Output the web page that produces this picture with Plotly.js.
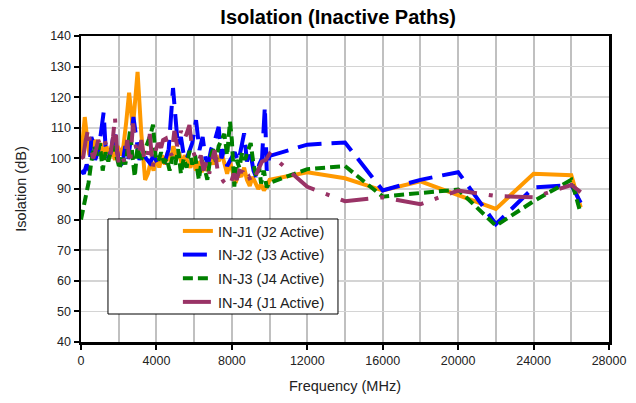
<!DOCTYPE html>
<html>
<head>
<meta charset="utf-8">
<script src="https://cdn.plot.ly/plotly-3.0.1.min.js"></script>
<style>html,body{margin:0;padding:0;background:#fff;}#chart{width:636px;height:403px;}</style>
</head>
<body>
<div id="chart"></div>
<script>
// ---- Data (frequency in MHz, isolation in dB) ----
const freqJ1 = [0,100,200,300,450,600,750,900,1050,1200,1350,1500,1650,1800,1950,2100,2250,2400,2550,2750,3000,3200,3400,3550,3700,3850,4000,4150,4300,4450,4600,4750,4900,5050,5200,5350,5500,5650,5800,5950,6100,6250,6400,6550,6700,6850,7000,7150,7300,7450,7600,7750,7900,8050,8200,8350,8500,8650,8800,8950,9100,9250,9400,9550,9700,9850,10000,12000,14000,16000,18000,20000,22000,24000,26000,26500];
const isoJ1  = [100,107,113.5,108,101,104,106,102,105,101,104,100,103,99.5,104,101,104,112,121.5,110,128.3,108,93,95,99,96,100.5,97,101,98,102,99,104,100,102,98,101,99,97,100,96,99,95.5,98,96,100,98,101,99,102,98,95,99,96,92,95,94,97,93,91,94,92,90,91.5,89.5,91,93,95.5,93.5,89.5,92.5,88,83.5,95,94.5,84];

const freqJ2 = [0,150,300,450,550,650,750,900,1050,1200,1300,1450,1600,1750,1900,2050,2200,2350,2500,2650,2780,2950,3100,3250,3450,3650,3850,4050,4250,4450,4650,4880,5000,5140,5300,5450,5580,5750,5900,6100,6280,6450,6600,6750,6900,7100,7300,7450,7600,7750,7950,8150,8350,8500,8650,8800,8950,9150,9280,9450,9600,9750,9850,10000,12000,14000,16000,18000,20000,22000,24000,26000,26500];
const isoJ2  = [96,95,98,96,107,105,99.5,102,108,115,104,100,102.5,109,103,97.5,98.5,104,99.5,106,113.5,106,99.5,102.5,100,98.5,101,98.5,100,99,103,123,113,104,107,101,99.5,102,105,112.5,102.7,107,100,98.4,103,106,110.3,100,103,97.5,100,102,99,104,108.2,99,103,96,94,98,100,117,96,100.8,104.5,105.2,89.5,93,95.5,78.5,90.5,91.3,85.5];

const freqJ3 = [0,200,400,550,700,850,1000,1150,1300,1450,1600,1750,1900,2050,2200,2350,2500,2600,2750,2850,3000,3150,3350,3550,3700,3820,3950,4100,4250,4400,4550,4700,4850,5000,5150,5300,5450,5600,5750,5900,6050,6250,6400,6550,6700,6850,7000,7150,7300,7450,7600,7750,7900,8000,8130,8250,8400,8550,8700,8850,9000,9150,9300,9450,9550,9700,9850,10000,12000,14000,16000,18000,20000,22000,24000,26000,26500];
const isoJ3  = [80,86,92,99,104,101,105,96,102,99,103,104,100,96.5,101,98,104,109,99.5,94,104,99,102,105,108,111,101,99,102,98.5,100,96,100.5,98,103,95,100,97,102.5,98,101,93,99.5,97,93,100,103,99,104,106,108,101,112,106,90.8,99.5,97,102,99.5,102.5,105,98,94,97,91.8,96,90.5,92,96.5,97.5,87.5,88.7,89.8,78,86,93,82];

const freqJ4 = [0,120,250,390,500,650,800,915,1050,1250,1400,1550,1700,1800,1900,2000,2150,2300,2450,2600,2760,2900,3050,3200,3350,3500,3650,3800,3950,4100,4250,4350,4500,4650,4800,4950,5100,5300,5450,5600,5750,5900,6050,6200,6350,6500,6650,6800,6950,7080,7250,7400,7550,7700,7800,7950,8100,8250,8400,8600,8750,8900,9050,9200,9400,9600,9800,10000,12000,14000,16000,18000,20000,22000,24000,26000,26500];
const isoJ4  = [100,100.5,106,109.8,104,100,103,106,104,106,103,101,107,113.6,103,98.5,101,99,106,98,111.4,104,101,106,100,99,108,97,102.5,105,103.5,106,106.5,103,101,109,104,109,106,108,110.9,103,100.5,98.5,101,96,99,95,99.5,102.7,96,94,92.5,91.5,90.8,92,95,93,96,95.5,93,94,92,93.5,96,99,99.5,101.5,90.7,86,87.3,85,89.5,87.7,87.3,91.3,89];

const seriesNames = ['IN-J1 (J2 Active)','IN-J2 (J3 Active)','IN-J3 (J4 Active)','IN-J4 (J1 Active)'];
const xTicks = [0,4000,8000,12000,16000,20000,24000,28000];
const yTicks = [40,50,60,70,80,90,100,110,120,130,140];

const FONT = 'Liberation Sans, Arial, sans-serif';

const traces = [
  {x: freqJ1, y: isoJ1, name: seriesNames[0], legendgroup: 'a', line: {color: '#FF9900', width: 4}},
  {x: freqJ2, y: isoJ2, name: seriesNames[1], legendgroup: 'b', line: {color: '#0000FF', width: 4, dash: '24px,10px'}},
  {x: freqJ3, y: isoJ3, name: seriesNames[2], legendgroup: 'c', line: {color: '#008000', width: 4, dash: '10px,5px'}},
  {x: freqJ4, y: isoJ4, name: seriesNames[3], legendgroup: 'd', line: {color: '#993366', width: 4, dash: '28px,12px,4px,12px'}}
].map(t => Object.assign({type: 'scatter', mode: 'lines', hoverinfo: 'skip'}, t));

const layout = {
  width: 636, height: 403,
  margin: {l: 81, r: 27, t: 36, b: 61},
  paper_bgcolor: '#fff', plot_bgcolor: '#fff',
  font: {family: FONT, color: '#222', size: 12},
  title: {text: '<b>Isolation (Inactive Paths)</b>', font: {family: FONT, size: 20, color: '#000'},
          x: 0.487, xref: 'paper', xanchor: 'center', y: 0.958, yref: 'container', yanchor: 'middle'},
  xaxis: {
    range: [0, 28000], tickmode: 'array', tickvals: xTicks, ticktext: xTicks.map(String),
    showgrid: true, gridcolor: '#c0c0c0', gridwidth: 2,
    minor: {dtick: 2000, tick0: 0, showgrid: true, gridcolor: '#c0c0c0', gridwidth: 2},
    showline: true, linecolor: '#000', linewidth: 2.5, mirror: true,
    ticks: 'outside', ticklen: 5, tickwidth: 2, tickcolor: '#000',
    zeroline: false, tickfont: {size: 12.5, family: FONT, color: '#222'},
    title: {text: 'Frequency (MHz)', font: {size: 14.5, family: FONT, color: '#222'}, standoff: 15}
  },
  yaxis: {
    range: [40, 140], tickmode: 'array', tickvals: yTicks, ticktext: yTicks.map(String),
    showgrid: true, gridcolor: '#d4d4d4', gridwidth: 1.5,
    showline: true, linecolor: '#000', linewidth: 2.5, mirror: true,
    ticks: 'outside', ticklen: 5, tickwidth: 2, tickcolor: '#000',
    zeroline: false, tickfont: {size: 12.5, family: FONT, color: '#222'},
    title: {text: 'Isolation (dB)', font: {size: 14.5, family: FONT, color: '#222'}, standoff: 20}
  },
  showlegend: true,
  legend: {
    x: 0.1835, xanchor: 'left', y: 0.415, yanchor: 'top',
    bgcolor: 'rgba(0,0,0,0)', borderwidth: 0,
    font: {size: 14.5, family: FONT, color: '#222'},
    tracegroupgap: 1.8, traceorder: 'grouped'
  },
  shapes: [{
    type: 'rect', xref: 'paper', yref: 'paper',
    x0: 0.0511, x1: 0.4867, y0: 0.0915, y1: 0.402,
    line: {color: '#000', width: 1}, fillcolor: '#fff', layer: 'above'
  }]
};

Plotly.newPlot('chart', traces, layout, {staticPlot: true, displayModeBar: false});
</script>
</body>
</html>
